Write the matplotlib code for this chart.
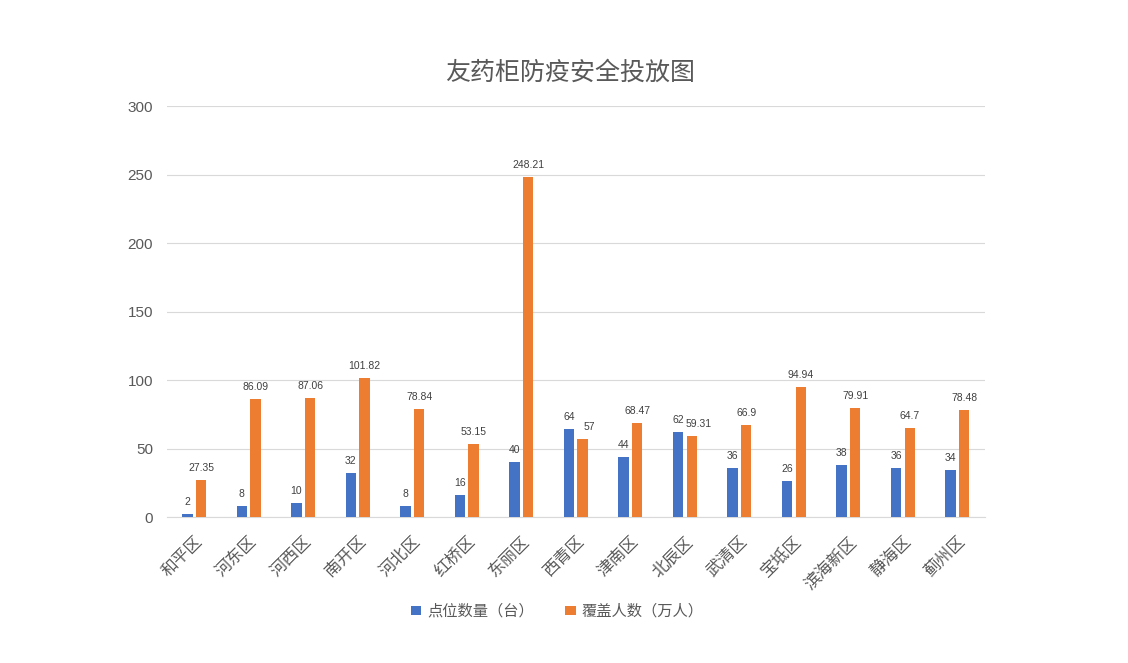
import numpy as np
import matplotlib
matplotlib.use("Agg")
import matplotlib.pyplot as plt

plt.rcParams['font.family'] = ['Liberation Sans', 'Noto Sans CJK SC', 'DejaVu Sans']

districts = ["和平区", "河东区", "河西区", "南开区", "河北区", "红桥区", "东丽区", "西青区",
             "津南区", "北辰区", "武清区", "宝坻区", "滨海新区", "静海区", "蓟州区"]
points = [2, 8, 10, 32, 8, 16, 40, 64, 44, 62, 36, 26, 38, 36, 34]
coverage = [27.35, 86.09, 87.06, 101.82, 78.84, 53.15, 248.21, 57, 68.47, 59.31,
            66.9, 94.94, 79.91, 64.7, 78.48]
coverage_labels = ["27.35", "86.09", "87.06", "101.82", "78.84", "53.15", "248.21", "57",
                   "68.47", "59.31", "66.9", "94.94", "79.91", "64.7", "78.48"]

blue = "#4472C4"
orange = "#ED7D31"
grey = "#595959"

fig = plt.figure(figsize=(11.28, 6.63), dpi=100)
ax = fig.add_axes([0.148, 0.2202, 0.725, 0.6198])

x = np.arange(len(districts))
w = 0.19
b1 = ax.bar(x - 0.125, points, w, color=blue, label="点位数量（台）", zorder=3)
b2 = ax.bar(x + 0.125, coverage, w, color=orange, label="覆盖人数（万人）", zorder=3)

for rect, v in zip(b1, points):
    ax.annotate(str(v), (rect.get_x() + rect.get_width() / 2, rect.get_height()),
                xytext=(0, 5), textcoords="offset points", ha="center", va="bottom",
                fontsize=7.5, color="#404040")
for rect, s, p in zip(b2, coverage_labels, points):
    # nudge right when it would collide with the blue label next to it
    dx = 5 if abs(rect.get_height() - p) < 10 else 0
    ax.annotate(s, (rect.get_x() + rect.get_width() / 2, rect.get_height()),
                xytext=(dx, 5), textcoords="offset points", ha="center", va="bottom",
                fontsize=7.5, color="#404040")

ax.set_xlim(-0.5, len(districts) - 0.5)
ax.set_ylim(0, 300)
ax.set_yticks(range(0, 301, 50))
ax.grid(axis="y", color="#d9d9d9", linewidth=0.8, zorder=0)
for s in ["top", "right", "left"]:
    ax.spines[s].set_visible(False)
ax.spines["bottom"].set_color("#d9d9d9")
ax.tick_params(axis="both", length=0, colors=grey, labelsize=11)
ax.tick_params(axis="y", pad=10)
ax.tick_params(axis="x", pad=12)
ax.set_xticks(x)
ax.set_xticklabels(districts, rotation=45, ha="right", rotation_mode="anchor", fontsize=12)

fig.text(0.505, 0.891, "友药柜防疫安全投放图", ha="center", va="center", fontsize=18, color=grey)

fig.legend(loc="center", bbox_to_anchor=(0.494, 0.078), ncol=2, frameon=False,
           fontsize=11, handlelength=0.7, handleheight=0.5, columnspacing=2.0,
           handletextpad=0.4, labelcolor=grey)

fig.savefig("out.png", dpi=100)
